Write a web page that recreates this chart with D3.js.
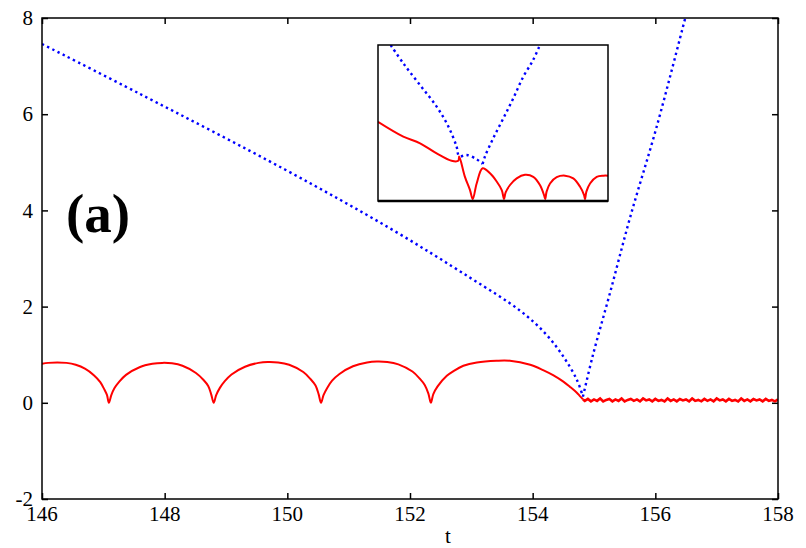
<!DOCTYPE html>
<html>
<head>
<meta charset="utf-8">
<script src="https://cdn.jsdelivr.net/npm/d3@7"></script>
<style>
body { margin:0; background:#fff; }
text { font-family:"Liberation Serif", "Times New Roman", serif; fill:#000; }
</style>
</head>
<body>
<div id="chart"></div>
<script>
//bouncing curves - d3 line chart with inset

var xTicks = [146,148,150,152,154,156,158];
var yTicks = [-2,0,2,4,6,8];

//red curve (t, value)
var redCurve = [
    [146.00,0.81],[146.10,0.83],[146.25,0.84],[146.40,0.83],[146.55,0.79],[146.70,0.71],[146.85,0.57],[146.95,0.43],[147.02,0.27],[147.06,0.16],[147.09,0.00],
    [147.13,0.16],[147.18,0.30],[147.26,0.44],[147.37,0.58],[147.59,0.74],[147.80,0.81],[147.96,0.83],[148.12,0.82],[148.29,0.77],[148.51,0.62],[148.63,0.48],[148.71,0.35],[148.76,0.17],[148.80,0.00],
    [148.84,0.16],[148.90,0.31],[148.98,0.45],[149.09,0.59],[149.31,0.75],[149.53,0.83],[149.68,0.85],[149.85,0.84],[150.03,0.79],[150.26,0.64],[150.38,0.49],[150.46,0.36],[150.51,0.18],[150.55,0.00],
    [150.59,0.16],[150.65,0.31],[150.73,0.46],[150.85,0.60],[151.07,0.76],[151.30,0.84],[151.46,0.86],[151.63,0.85],[151.81,0.80],[152.04,0.65],[152.16,0.50],[152.24,0.37],[152.30,0.19],[152.34,0.00],
    [152.38,0.18],[152.45,0.34],[152.60,0.56],[152.71,0.66],[152.87,0.77],[153.09,0.84],[153.41,0.875],[153.63,0.875],[153.96,0.79],[154.17,0.68],[154.34,0.57],[154.50,0.44],[154.61,0.33],[154.72,0.21],[154.77,0.14],[154.82,0.07]
];

//red tail after the collision (noisy, near zero)
var redTail = [
    [154.82,0.07],[154.85,0.04],[154.90,0.08],[154.95,0.03],[155.00,0.07],[155.05,0.04],[155.10,0.09],[155.15,0.03],[155.20,0.06],[155.25,0.08],[155.30,0.03],
    [155.35,0.07],[155.40,0.04],[155.45,0.09],[155.50,0.03],[155.55,0.06],[155.60,0.08],[155.65,0.04],[155.70,0.07],[155.75,0.03],[155.80,0.09],
    [155.85,0.05],[155.90,0.07],[155.95,0.03],[156.00,0.08],[156.05,0.04],[156.10,0.06],[156.15,0.03],[156.20,0.09],[156.25,0.04],[156.30,0.07],
    [156.35,0.03],[156.40,0.08],[156.45,0.05],[156.50,0.07],[156.55,0.03],[156.60,0.09],[156.65,0.04],[156.70,0.06],[156.75,0.03],[156.80,0.08],
    [156.85,0.04],[156.90,0.07],[156.95,0.03],[157.00,0.09],[157.05,0.05],[157.10,0.07],[157.15,0.03],[157.20,0.08],[157.25,0.04],[157.30,0.06],
    [157.35,0.03],[157.40,0.09],[157.45,0.04],[157.50,0.07],[157.55,0.03],[157.60,0.08],[157.65,0.05],[157.70,0.07],[157.75,0.03],[157.80,0.08],
    [157.85,0.04],[157.90,0.06],[157.95,0.03],[158.00,0.07]
];

//blue dotted curve (t, value), falling branch then rising branch
var blueFall = [
    [146.00,7.46],[147.60,6.42],[149.96,4.85],[151.67,3.63],[152.98,2.60],[153.79,1.92],[154.20,1.45],[154.49,0.98],[154.72,0.48],[154.82,0.13]
];
var blueRise = [
    [154.82,0.13],[154.98,0.98],[155.26,2.28],[155.59,3.86],[156.02,5.73],[156.48,7.96],[156.52,8.15]
];

//inset curves (inset units)
var insetRed = [
    [0,2.03],[1.10,1.65],[1.83,1.48],[2.55,1.22],[3.20,1.03],[3.49,1.03],[3.53,1.14],[3.78,0.62],[4.00,0.28],[4.12,0.05],
    [4.29,0.45],[4.55,0.84],[4.87,0.71],[5.16,0.50],[5.38,0.28],[5.45,0.11],[5.48,0.05],
    [5.55,0.22],[5.74,0.41],[6.03,0.58],[6.39,0.67],[6.75,0.62],[7.04,0.41],[7.22,0.15],[7.27,0.05],
    [7.33,0.24],[7.48,0.45],[7.77,0.61],[8.13,0.65],[8.49,0.58],[8.78,0.37],[8.96,0.15],[9.00,0.05],
    [9.06,0.24],[9.22,0.45],[9.51,0.62],[9.80,0.65],[10.0,0.65]
];
var insetBlueFall = [
    [0.55,4.0],[1.10,3.53],[1.83,2.97],[2.55,2.42],[3.06,1.91],[3.42,1.39],[3.53,1.15],[3.86,1.18],[4.29,1.07],[4.55,0.95]
];
var insetBlueRise = [
    [4.55,0.95],[4.65,1.14],[5.01,1.61],[5.45,2.12],[5.88,2.63],[6.32,3.19],[6.75,3.62],[7.04,4.0]
];

var width = 806, height = 548;
var margin = {top:18, right:28, bottom:49, left:42};
var plotW = width - margin.left - margin.right;
var plotH = height - margin.top - margin.bottom;

var x = d3.scaleLinear().domain([146,158]).range([0,plotW]);
var y = d3.scaleLinear().domain([-2,8]).range([plotH,0]);

var svg = d3.select("#chart")
    .append("svg")
    .attr("width",width)
    .attr("height",height)
    .append("g")
    .attr("transform","translate(" + margin.left + "," + margin.top + ")");

svg.append("defs").append("clipPath")
    .attr("id","plotClip")
    .append("rect")
    .attr("width",plotW)
    .attr("height",plotH);

//ticks, inward on all four sides
var tickLen = 6;
svg.append("g")
    .attr("transform","translate(0," + plotH + ")")
    .call(d3.axisBottom(x).tickValues(xTicks).tickSize(-tickLen).tickSizeOuter(0).tickFormat(""))
    .call(g => g.select(".domain").remove());
svg.append("g")
    .call(d3.axisTop(x).tickValues(xTicks).tickSize(-tickLen).tickSizeOuter(0).tickFormat(""))
    .call(g => g.select(".domain").remove());
svg.append("g")
    .call(d3.axisLeft(y).tickValues(yTicks).tickSize(-tickLen).tickSizeOuter(0).tickFormat(""))
    .call(g => g.select(".domain").remove());
svg.append("g")
    .attr("transform","translate(" + plotW + ",0)")
    .call(d3.axisRight(y).tickValues(yTicks).tickSize(-tickLen).tickSizeOuter(0).tickFormat(""))
    .call(g => g.select(".domain").remove());
svg.selectAll(".tick line").attr("stroke","#000").attr("stroke-width",1.5);

//tick labels
svg.append("g")
    .selectAll("text")
    .data(xTicks)
    .enter()
    .append("text")
    .attr("x", d => x(d))
    .attr("y", plotH + 22)
    .attr("text-anchor","middle")
    .style("font-size","21px")
    .text(d => d);
svg.append("g")
    .selectAll("text")
    .data(yTicks)
    .enter()
    .append("text")
    .attr("x", -9)
    .attr("y", d => y(d))
    .attr("dy","0.34em")
    .attr("text-anchor","end")
    .style("font-size","21px")
    .text(d => d);

svg.append("text")
    .attr("x", 406)
    .attr("y", plotH + 44)
    .attr("text-anchor","middle")
    .style("font-size","21px")
    .text("t");

//curves
var smooth = d3.line()
    .curve(d3.curveCatmullRom.alpha(0.5))
    .x(d => x(d[0]))
    .y(d => y(d[1]));
var straight = d3.line()
    .x(d => x(d[0]))
    .y(d => y(d[1]));

var plot = svg.append("g").attr("clip-path","url(#plotClip)");
plot.append("path")
    .datum(redCurve)
    .attr("fill","none")
    .attr("stroke","#ff0000")
    .attr("stroke-width",2)
    .attr("stroke-linejoin","round")
    .attr("d",smooth);
plot.append("path")
    .datum(redTail)
    .attr("fill","none")
    .attr("stroke","#ff0000")
    .attr("stroke-width",2.6)
    .attr("d",straight);
plot.selectAll(".blue")
    .data([blueFall,blueRise])
    .enter()
    .append("path")
    .attr("fill","none")
    .attr("stroke","#0000ff")
    .attr("stroke-width",2.4)
    .attr("stroke-dasharray","2.4,3.4")
    .attr("d",smooth);

//frame
svg.append("rect")
    .attr("width",plotW)
    .attr("height",plotH)
    .attr("fill","none")
    .attr("stroke","#000")
    .attr("stroke-width",1.5);

//panel label
svg.append("text")
    .attr("x",24)
    .attr("y",214)
    .style("font-size","55px")
    .style("font-weight","bold")
    .text("(a)");

//inset
var inset = {left:378 - margin.left, top:45 - margin.top, w:230, h:156};
var ix = d3.scaleLinear().domain([0,10]).range([0,inset.w]);
var iy = d3.scaleLinear().domain([0,4]).range([inset.h,0]);

var ig = svg.append("g")
    .attr("transform","translate(" + inset.left + "," + inset.top + ")");
ig.append("rect")
    .attr("width",inset.w)
    .attr("height",inset.h)
    .attr("fill","#fff");
ig.append("defs").append("clipPath")
    .attr("id","insetClip")
    .append("rect")
    .attr("width",inset.w)
    .attr("height",inset.h);

var ismooth = d3.line()
    .curve(d3.curveCatmullRom.alpha(0.5))
    .x(d => ix(d[0]))
    .y(d => iy(d[1]));

var ip = ig.append("g").attr("clip-path","url(#insetClip)");
ip.append("path")
    .datum(insetRed)
    .attr("fill","none")
    .attr("stroke","#ff0000")
    .attr("stroke-width",2)
    .attr("stroke-linejoin","round")
    .attr("d",ismooth);
ip.selectAll(".blue")
    .data([insetBlueFall,insetBlueRise])
    .enter()
    .append("path")
    .attr("fill","none")
    .attr("stroke","#0000ff")
    .attr("stroke-width",2.4)
    .attr("stroke-dasharray","2.4,3.4")
    .attr("d",ismooth);

ig.append("rect")
    .attr("width",inset.w)
    .attr("height",inset.h)
    .attr("fill","none")
    .attr("stroke","#000")
    .attr("stroke-width",1.5);
ig.append("line")
    .attr("x1",0)
    .attr("x2",inset.w)
    .attr("y1",inset.h)
    .attr("y2",inset.h)
    .attr("stroke","#000")
    .attr("stroke-width",2.5);
</script>
</body>
</html>
